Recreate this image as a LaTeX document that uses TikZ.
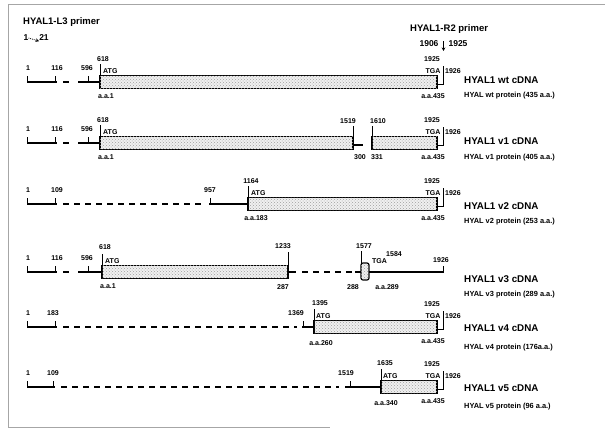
\documentclass[tikz,border=0pt]{standalone}
\usepackage{fontspec}
\setmainfont{Liberation Sans}
\usetikzlibrary{arrows.meta,patterns}
\newcommand\stdleft[2]{%
  \draw[seg] (27,#2)--(57,#2);
  \draw[tk] (27,#2)--(27,#2-6) (55,#2)--(55,#2-6);
  \draw[gapl] (63,#2)--(72,#2);
  \draw[seg] (78,#2)--(101,#2);
  \draw[tk] (88,#2)--(88,#2-6);
  \node[num] (#1-a) at (28,#2-14) {1};
  \node[num] (#1-b) at (57,#2-14) {116};
  \node[num] (#1-c) at (87,#2-14) {596};
}
\newcommand\stdright[2]{%
  \draw[tk] (437,#2+2)--(443,#2+2)--(443,#2-16);
  \node[num] (#1-e1) at (432,#2-23) {1925};
  \node[num,anchor=east] (#1-e2) at (440.5,#2-11) {TGA};
  \node[num,anchor=west] (#1-e3) at (445,#2-11) {1926};
  \node[num] (#1-e4) at (433,#2+14) {a.a.435};
}
\begin{document}
\begin{tikzpicture}[x=1pt,y=-1pt,
  exon/.style={draw=black,line width=1.2pt,fill=gray!12,
    postaction={pattern=crosshatch dots,pattern color=gray!75}},
  seg/.style={line width=1.4pt},
  gapl/.style={line width=1.4pt,dash pattern=on 6pt off 5pt},
  tk/.style={line width=0.6pt},
  num/.style={font=\fontsize{7}{8}\selectfont\bfseries,inner sep=0pt},
  ttl/.style={font=\fontsize{9.5}{10}\selectfont\bfseries,inner sep=0pt,anchor=west},
  pnum/.style={font=\fontsize{8.5}{9}\selectfont\bfseries,inner sep=0pt},
  cdna/.style={font=\fontsize{9.8}{10}\selectfont\bfseries,inner sep=0pt,anchor=west},
  prot/.style={font=\fontsize{7.4}{8}\selectfont\bfseries,inner sep=0pt,anchor=west},
  arr/.style={-{Stealth[length=3.5pt,width=3.5pt]},line width=0.8pt}]
\useasboundingbox (0,0) rectangle (605,429);
% frame
\draw[gray!70,line width=0.7pt] (8,427)--(8,4)--(605,4);
\draw[gray!70,line width=0.7pt] (8,427)--(330,427);

% primers
\node[ttl] (l3) at (23,22) {HYAL1-L3 primer};
\node[pnum] (l3a) at (26,38) {1};
\node[pnum] (l3b) at (44,38) {21};
\draw[arr,densely dotted] (l3a.east) -- (l3b.south west);
\node[ttl] (r2) at (410,29) {HYAL1-R2 primer};
\node[pnum] (r2a) at (429,44) {1906};
\node[pnum] (r2b) at (458,44) {1925};
\coordinate (r2s) at (443.5,41);
\coordinate (r2e) at (443.5,51);
\draw[arr] (r2s) -- (r2e);

% ---------- wt ----------
\def\yr{82}
\stdleft{wt}{\yr}
\draw[exon] (100,\yr-6.5) rectangle (437,\yr+6.5);
\draw[tk] (100,\yr-6.5)--(100,\yr-18);
\node[num] (wt-s) at (103,\yr-23) {618};
\node[num,anchor=west] (wt-atg) at (103,\yr-11) {ATG};
\node[num] (wt-aa) at (106,\yr+14) {a.a.1};
\stdright{wt}{\yr}
\node[cdna] (wt-l) at (464,\yr-2) {HYAL1 wt cDNA};
\node[prot] (wt-p) at (464,\yr+14) {HYAL wt protein (435 a.a.)};

% ---------- v1 ----------
\def\yr{143}
\stdleft{v1}{\yr}
\draw[exon] (100,\yr-6.5) rectangle (353,\yr+6.5);
\draw[tk] (100,\yr-6.5)--(100,\yr-18);
\draw[tk] (353,\yr-6.5)--(353,\yr-17);
\draw[seg] (353,\yr+2)--(363,\yr+2);
\draw[exon] (372,\yr-6.5) rectangle (437,\yr+6.5);
\draw[tk] (372,\yr-6.5)--(372,\yr-17);
\node[num] (v1-s) at (103,\yr-23) {618};
\node[num,anchor=west] (v1-atg) at (103,\yr-11) {ATG};
\node[num] (v1-aa) at (106,\yr+14) {a.a.1};
\node[num] (v1-x1) at (348,\yr-22) {1519};
\node[num] (v1-x2) at (378,\yr-22) {1610};
\node[num] (v1-x3) at (360,\yr+14) {300};
\node[num] (v1-x4) at (377,\yr+14) {331};
\stdright{v1}{\yr}
\node[cdna] (v1-l) at (464,\yr-2) {HYAL1 v1 cDNA};
\node[prot] (v1-p) at (464,\yr+15) {HYAL v1 protein (405 a.a.)};

% ---------- v2 ----------
\def\yr{204}
\draw[seg] (27,\yr)--(57,\yr);
\draw[tk] (27,\yr)--(27,\yr-6) (55,\yr)--(55,\yr-6);
\node[num] (v2-a) at (28,\yr-14) {1};
\node[num] (v2-b) at (57,\yr-14) {109};
\draw[gapl] (63,\yr)--(204,\yr);
\draw[seg] (209,\yr)--(249,\yr);
\draw[tk] (210,\yr)--(210,\yr-6);
\node[num] (v2-c) at (210,\yr-14) {957};
\draw[exon] (248,\yr-6.5) rectangle (437,\yr+6.5);
\draw[tk] (248,\yr-6.5)--(248,\yr-18);
\node[num] (v2-s) at (251,\yr-23) {1164};
\node[num,anchor=west] (v2-atg) at (251,\yr-11) {ATG};
\node[num] (v2-aa) at (256,\yr+14) {a.a.183};
\stdright{v2}{\yr}
\node[cdna] (v2-l) at (464,\yr+2) {HYAL1 v2 cDNA};
\node[prot] (v2-p) at (464,\yr+18) {HYAL v2 protein (253 a.a.)};

% ---------- v3 ----------
\def\yr{272}
\stdleft{v3}{\yr}
\draw[exon] (102,\yr-6.5) rectangle (288,\yr+6.5);
\draw[tk] (102,\yr-6.5)--(102,\yr-18);
\draw[tk] (288,\yr-6.5)--(288,\yr-20);
\node[num] (v3-s) at (105,\yr-25) {618};
\node[num,anchor=west] (v3-atg) at (105,\yr-11) {ATG};
\node[num] (v3-aa) at (108,\yr+14) {a.a.1};
\node[num] (v3-x1) at (283,\yr-26) {1233};
\node[num] (v3-x2) at (283,\yr+15) {287};
\draw[seg] (288,\yr)--(296,\yr);
\draw[gapl] (302,\yr)--(352,\yr);
\draw[seg] (355,\yr)--(362,\yr);
\draw[exon,rounded corners=2pt] (361,\yr-9) rectangle (369,\yr+8);
\draw[tk] (361,\yr-9)--(361,\yr-21);
\node[num] (v3-x3) at (364,\yr-26) {1577};
\node[num] (v3-x4) at (394,\yr-18) {1584};
\node[num,anchor=west] (v3-tga) at (372,\yr-11) {TGA};
\draw[seg] (369,\yr)--(444,\yr);
\draw[tk] (443.5,\yr)--(443.5,\yr-6);
\node[num] (v3-x5) at (441,\yr-12) {1926};
\node[num] (v3-x6) at (353,\yr+15) {288};
\node[num] (v3-x7) at (387,\yr+15) {a.a.289};
\node[cdna] (v3-l) at (464,\yr+7) {HYAL1 v3 cDNA};
\node[prot] (v3-p) at (464,\yr+23) {HYAL v3 protein (289 a.a.)};

% ---------- v4 ----------
\def\yr{327}
\draw[seg] (27,\yr)--(57,\yr);
\draw[tk] (27,\yr)--(27,\yr-6) (55,\yr)--(55,\yr-6);
\node[num] (v4-a) at (28,\yr-14) {1};
\node[num] (v4-b) at (53,\yr-14) {183};
\draw[gapl] (63,\yr)--(297,\yr);
\draw[seg] (302,\yr)--(315,\yr);
\draw[tk] (303,\yr)--(303,\yr-6);
\node[num] (v4-c) at (296,\yr-14) {1369};
\draw[exon] (314,\yr-6.5) rectangle (437,\yr+6.5);
\draw[tk] (314,\yr-6.5)--(314,\yr-18);
\node[num] (v4-s) at (320,\yr-24) {1395};
\node[num,anchor=west] (v4-atg) at (316,\yr-11) {ATG};
\node[num] (v4-aa) at (321,\yr+16) {a.a.260};
\stdright{v4}{\yr}
\node[cdna] (v4-l) at (464,\yr+1) {HYAL1 v4 cDNA};
\node[prot] (v4-p) at (464,\yr+21) {HYAL v4 protein (176a.a.)};

% ---------- v5 ----------
\def\yr{387}
\draw[seg] (27,\yr)--(55,\yr);
\draw[tk] (27,\yr)--(27,\yr-6) (53,\yr)--(53,\yr-6);
\node[num] (v5-a) at (28,\yr-14) {1};
\node[num] (v5-b) at (53,\yr-14) {109};
\draw[gapl] (61,\yr)--(339,\yr);
\draw[seg] (345,\yr)--(382,\yr);
\draw[tk] (350,\yr)--(350,\yr-6);
\node[num] (v5-c) at (346,\yr-14) {1519};
\draw[exon] (381,\yr-6.5) rectangle (437,\yr+6.5);
\draw[tk] (381,\yr-6.5)--(381,\yr-18);
\node[num] (v5-s) at (385,\yr-24) {1635};
\node[num,anchor=west] (v5-atg) at (383,\yr-11) {ATG};
\node[num] (v5-aa) at (386,\yr+16) {a.a.340};
\stdright{v5}{\yr}
\node[cdna] (v5-l) at (464,\yr+1) {HYAL1 v5 cDNA};
\node[prot] (v5-p) at (464,\yr+20) {HYAL v5 protein (96 a.a.)};
\end{tikzpicture}
\end{document}
